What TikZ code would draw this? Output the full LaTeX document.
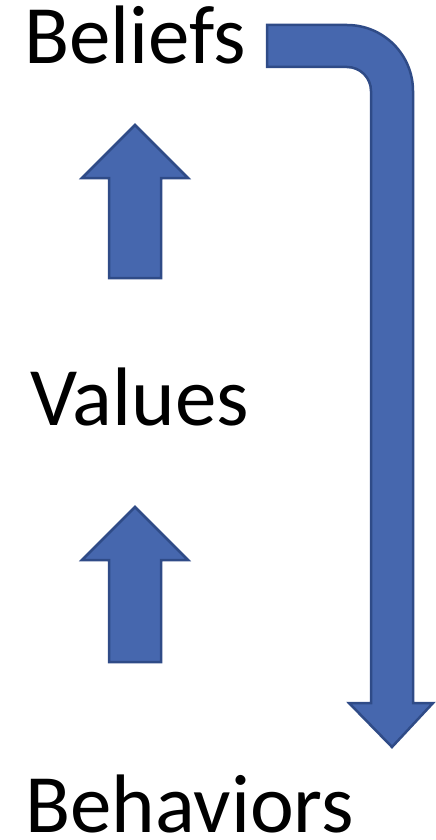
\documentclass[tikz,border=0pt]{standalone}
\usepackage{fontspec}
\setmainfont{Carlito}
\definecolor{arrowfill}{HTML}{4667AE}
\definecolor{arrowline}{HTML}{2F4B87}
\begin{document}
\begin{tikzpicture}[x=1pt,y=-1pt,
  blockarrow/.style={fill=arrowfill,draw=arrowline,line width=2.5pt,line join=miter},
  word/.style={font=\fontsize{83}{95}\selectfont,inner sep=0pt,text depth=0pt,
    anchor=base west,text=black}]
\useasboundingbox (0,0) rectangle (436,840);

% labels
\node[word] (beliefs)   at (24,64)  {Beliefs};
\node[word] (values)    at (30,425) {Values};
\node[word] (behaviors) at (25,832) {Behaviors};

% upward block arrows between the labels
\draw[blockarrow] (109,278) -- (109,178) -- (82,178) -- (135,125)
  -- (188,178) -- (161,178) -- (161,278) -- cycle;
\draw[blockarrow] (109,662) -- (109,560) -- (82,560) -- (135,507)
  -- (188,560) -- (161,560) -- (161,662) -- cycle;

% bent arrow from Beliefs down to Behaviors
\draw[blockarrow] (267,25) -- (347,25)
  arc[start angle=90,end angle=0,radius=66pt]
  -- (413,703) -- (433,703) -- (392,747) -- (349,703) -- (371,703)
  -- (371,91)
  arc[start angle=0,end angle=90,radius=24pt]
  -- (267,67) -- cycle;
\end{tikzpicture}
\end{document}
